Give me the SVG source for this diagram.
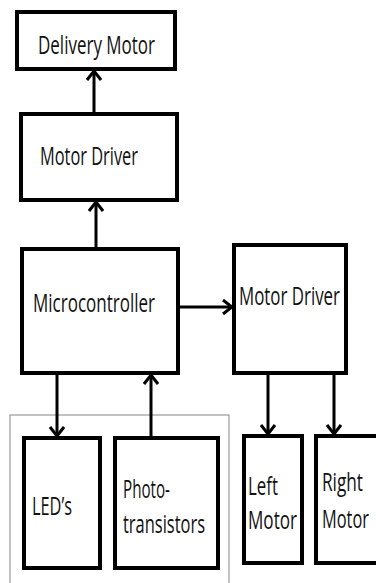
<svg xmlns="http://www.w3.org/2000/svg" width="376" height="583" viewBox="0 0 376 583">
<style>
.box{fill:#fff;stroke:#000;stroke-width:4}
.t{font-family:"Open Sans","Liberation Sans",sans-serif;font-size:25px;fill:#111}
.c{stroke:#000;stroke-width:3;fill:none}
</style>
<defs>
<marker id="ah" viewBox="0 0 14 16" refX="12" refY="8" markerWidth="14" markerHeight="16" markerUnits="userSpaceOnUse" orient="auto">
<polyline points="3,1 12,8 3,15" fill="none" stroke="#000" stroke-width="3"/>
</marker>
</defs>
<rect width="376" height="583" fill="#fff"/>
<rect x="10" y="415" width="219" height="180" fill="none" stroke="#999" stroke-width="1.2"/>
<g id="delivery-motor"><rect class="box" x="17" y="12" width="158" height="57"/><text class="t" x="38" y="54" font-size="22" textLength="117" lengthAdjust="spacingAndGlyphs">Delivery Motor</text></g>
<g id="motor-driver-top"><rect class="box" x="21" y="114" width="156" height="86"/><text class="t" x="40" y="165" textLength="98" lengthAdjust="spacingAndGlyphs">Motor Driver</text></g>
<g id="microcontroller"><rect class="box" x="22" y="249" width="156" height="124"/><text class="t" x="33" y="312" textLength="122" lengthAdjust="spacingAndGlyphs">Microcontroller</text></g>
<g id="motor-driver-right"><rect class="box" x="234" y="245" width="112" height="128"/><text class="t" x="239" y="305" textLength="101" lengthAdjust="spacingAndGlyphs">Motor Driver</text></g>
<g id="leds"><rect class="box" x="24" y="438" width="76" height="130"/><text class="t" x="32" y="515" textLength="40" lengthAdjust="spacingAndGlyphs">LED’s</text></g>
<g id="phototransistors"><rect class="box" x="115" y="438" width="103" height="130"/><text class="t" x="123" y="498" textLength="47" lengthAdjust="spacingAndGlyphs">Photo-</text><text class="t" x="123" y="533" textLength="82" lengthAdjust="spacingAndGlyphs">transistors</text></g>
<g id="left-motor"><rect class="box" x="244" y="436" width="58" height="127"/><text class="t" x="248" y="495" textLength="30" lengthAdjust="spacingAndGlyphs">Left</text><text class="t" x="248" y="529" textLength="49" lengthAdjust="spacingAndGlyphs">Motor</text></g>
<g id="right-motor"><rect class="box" x="316" y="436" width="70" height="127"/><text class="t" x="322" y="491" textLength="41" lengthAdjust="spacingAndGlyphs">Right</text><text class="t" x="322" y="528" textLength="47" lengthAdjust="spacingAndGlyphs">Motor</text></g>
<g id="connectors">
<line class="c" x1="94" y1="112" x2="94" y2="71" marker-end="url(#ah)"/>
<line class="c" x1="96" y1="247" x2="96" y2="202" marker-end="url(#ah)"/>
<line class="c" x1="180" y1="307" x2="232" y2="307" marker-end="url(#ah)"/>
<line class="c" x1="57" y1="375" x2="57" y2="436" marker-end="url(#ah)"/>
<line class="c" x1="151" y1="436" x2="151" y2="375" marker-end="url(#ah)"/>
<line class="c" x1="268" y1="375" x2="268" y2="434" marker-end="url(#ah)"/>
<line class="c" x1="334" y1="375" x2="334" y2="434" marker-end="url(#ah)"/>
</g>
</svg>
